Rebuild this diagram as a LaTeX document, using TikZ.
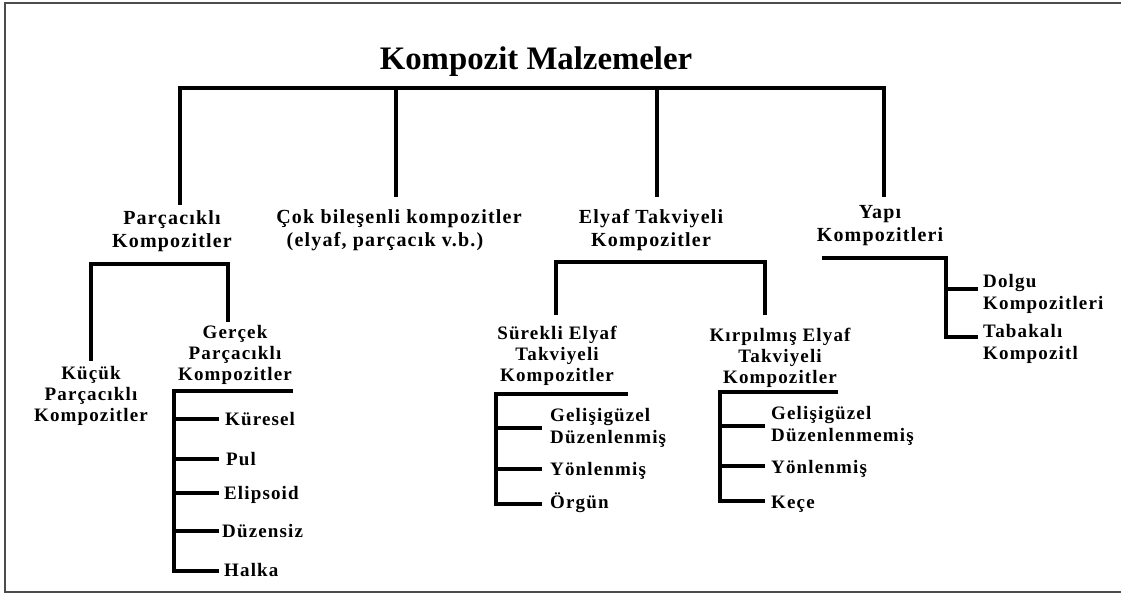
\documentclass[tikz,border=0pt]{standalone}
\usepackage{fontspec}
\setmainfont{Liberation Serif}
\newfontfamily\lblfont[LetterSpace=6]{Liberation Serif Bold}
\newfontfamily\ttlfont{Liberation Serif Bold}
\tikzset{
  bar/.style={line width=4.6pt, line join=miter, draw=black},
  frame/.style={line width=1.6pt, draw=black!70},
  title/.style={font=\ttlfont\fontsize{32.8}{38}\selectfont, anchor=base, inner sep=0pt},
  head/.style={font=\lblfont\fontsize{20}{23}\selectfont, align=center, anchor=base, inner sep=0pt},
  sub/.style={font=\lblfont\fontsize{19}{21}\selectfont, align=center, anchor=base, inner sep=0pt},
  leaf/.style={font=\lblfont\fontsize{19}{22}\selectfont, align=left, anchor=base west, inner sep=0pt},
}
\begin{document}
\begin{tikzpicture}[x=1pt, y=-1pt]
\useasboundingbox (0,0) rectangle (1121,594);
% page frame
\coordinate (fTR) at (1121,3); \coordinate (fTL) at (5,3);
\coordinate (fBL) at (5,592); \coordinate (fBR) at (1121,592);
\draw[frame] (fTR) -- (fTL) -- (fBL) -- (fBR);

% title
\node[title] (root) at (536,70) {Kompozit Malzemeler};

% first level (base anchor sits on the last line)
\node[head] (parc) at (172,247) {Parçacıklı\\Kompozitler};
\node[head] (cok)  at (399,246) {Çok bileşenli kompozitler\\(elyaf, parçacık v.b.)\hspace*{28pt}};
\node[head] (elyaf) at (651,246) {Elyaf Takviyeli\\Kompozitler};
\node[head] (yapi) at (880,241) {Yapı\\Kompozitleri};

% main bar
\coordinate (mL) at (180,88); \coordinate (mR) at (884,88);
\coordinate (mB) at (396,88); \coordinate (mC) at (657,88);
\coordinate (parcIn) at (180,205);
\coordinate (cokIn) at (396,197);
\coordinate (elyafIn) at (657,197);
\coordinate (yapiIn) at (884,197);
\draw[bar] (parcIn) -- (mL) -- (mR) -- (yapiIn);
\draw[bar] (mB) -- (cokIn);
\draw[bar] (mC) -- (elyafIn);

% particle composites
\node[sub] (kucuk) at (91,421) {Küçük\\Parçacıklı\\Kompozitler};
\node[sub] (gercek) at (235,380) {Gerçek\\Parçacıklı\\Kompozitler};
\coordinate (pL) at (91,264); \coordinate (pR) at (228,264);
\coordinate (kucukIn) at (91,361);
\coordinate (gercekIn) at (228,322);
\draw[bar] (kucukIn) -- (pL) -- (pR) -- (gercekIn);

% true particle shapes
\coordinate (gT) at (293,391); \coordinate (gC) at (174,391);
\coordinate (gB) at (174,571);
\draw[bar] (gT) -- (gC) -- (gB) -- (219,571);
\node[leaf] (kuresel) at (225,425) {Küresel};
\node[leaf] (pul) at (226,465) {Pul};
\node[leaf] (elips) at (224,499) {Elipsoid};
\node[leaf] (duzensiz) at (222,537) {Düzensiz};
\node[leaf] (halka) at (224,576) {Halka};
\foreach \yy in {419,459,493,531} \draw[bar] (174,\yy) -- (219,\yy);

% fibre reinforced
\node[sub] (surekli) at (557,381) {Sürekli Elyaf\\Takviyeli\\Kompozitler};
\node[sub] (kirp) at (780,383) {Kırpılmış Elyaf\\Takviyeli\\Kompozitler};
\coordinate (eL) at (556,262); \coordinate (eR) at (765,262);
\coordinate (surekliIn) at (556,315);
\coordinate (kirpIn) at (765,315);
\draw[bar] (surekliIn) -- (eL) -- (eR) -- (kirpIn);

% continuous fibre
\coordinate (sT) at (628,394); \coordinate (sC) at (496,394);
\coordinate (sB) at (496,504);
\draw[bar] (sT) -- (sC) -- (sB) -- (542,504);
\foreach \yy in {428,469} \draw[bar] (496,\yy) -- (542,\yy);
\node[leaf] (sgel) at (550,443) {Gelişigüzel\\Düzenlenmiş};
\node[leaf] (syon) at (550,475) {Yönlenmiş};
\node[leaf] (sorg) at (550,508) {Örgün};

% chopped fibre
\coordinate (kT) at (838,392); \coordinate (kC) at (720,392);
\coordinate (kB) at (720,501);
\draw[bar] (kT) -- (kC) -- (kB) -- (765,501);
\foreach \yy in {426,466} \draw[bar] (720,\yy) -- (765,\yy);
\node[leaf] (kgel) at (771,441) {Gelişigüzel\\Düzenlenmemiş};
\node[leaf] (kyon) at (771,473) {Yönlenmiş};
\node[leaf] (kece) at (771,508) {Keçe};

% structural composites
\coordinate (yL) at (822,258); \coordinate (yC) at (946,258);
\coordinate (yB) at (946,337);
\draw[bar] (yL) -- (yC) -- (yB) -- (978,337);
\draw[bar] (946,289) -- (978,289);
\node[leaf] (dolgu) at (983,309) {Dolgu\\Kompozitleri};
\node[leaf] (tabak) at (983,359) {Tabakalı\\Kompozitl};
\end{tikzpicture}
\end{document}
